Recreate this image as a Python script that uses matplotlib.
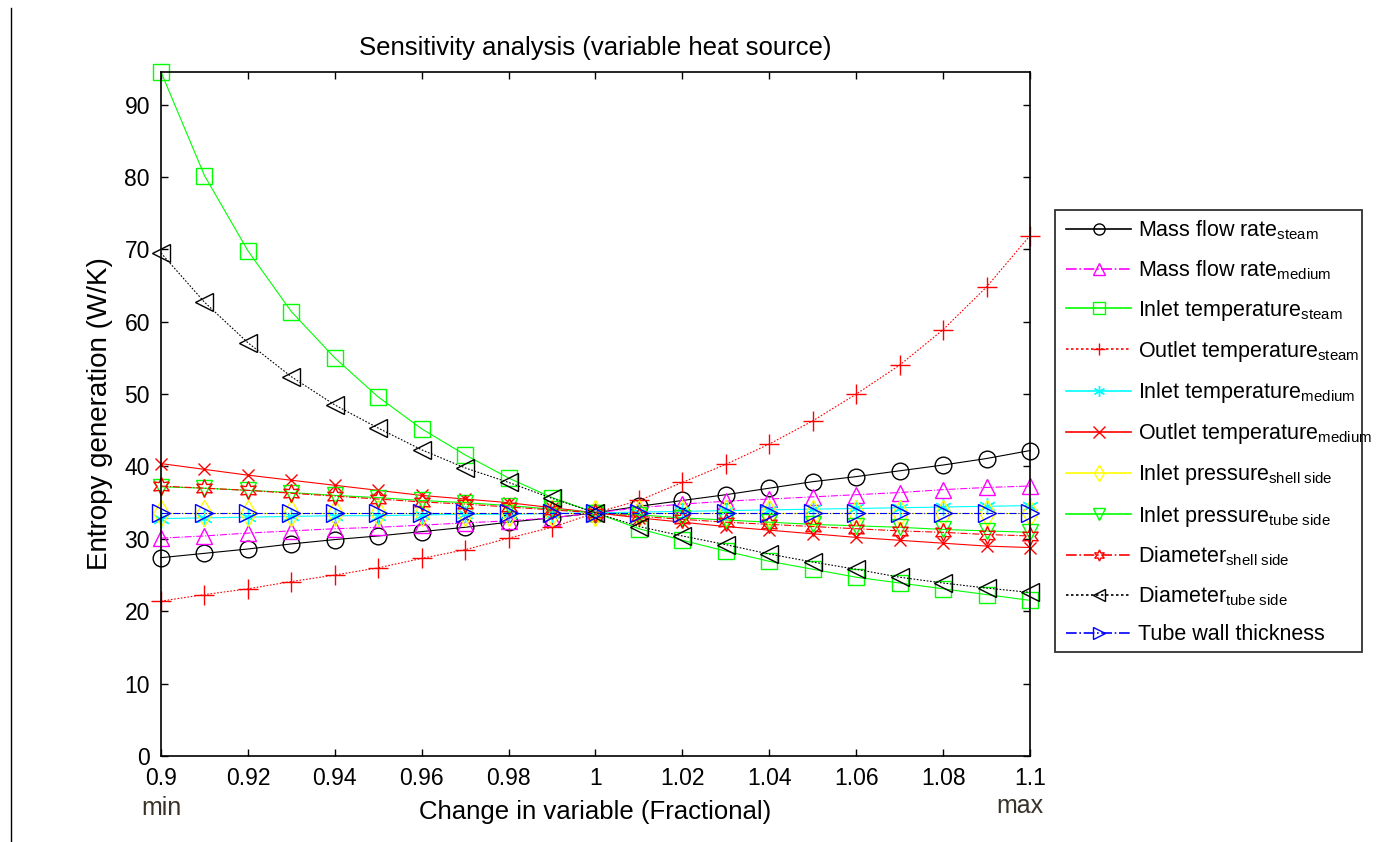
import matplotlib
matplotlib.use("Agg")
import matplotlib.pyplot as plt
from matplotlib.lines import Line2D
from matplotlib.patches import Rectangle

plt.rcParams['font.family'] = ['Liberation Sans', 'DejaVu Sans']
plt.rcParams['mathtext.fontset'] = 'custom'
plt.rcParams['mathtext.rm'] = 'Liberation Sans'
plt.rcParams['mathtext.it'] = 'Liberation Sans:italic'
plt.rcParams['mathtext.bf'] = 'Liberation Sans:bold'

# ---------------- data ----------------
x = [0.90, 0.91, 0.92, 0.93, 0.94, 0.95, 0.96, 0.97, 0.98, 0.99, 1.00,
     1.01, 1.02, 1.03, 1.04, 1.05, 1.06, 1.07, 1.08, 1.09, 1.10]

mass_steam = [27.4, 28.0, 28.6, 29.3, 29.9, 30.4, 31.0, 31.6, 32.3, 32.9, 33.6,
              34.5, 35.3, 36.1, 37.0, 37.9, 38.6, 39.4, 40.2, 41.1, 42.2]
mass_medium = [30.1, 30.4, 30.8, 31.1, 31.4, 31.6, 31.9, 32.2, 32.5, 32.9, 33.6,
               34.3, 34.8, 35.2, 35.5, 35.8, 36.1, 36.4, 36.8, 37.1, 37.3]
inlet_T_steam = [94.5, 80.2, 69.8, 61.4, 55.0, 49.6, 45.2, 41.6, 38.4, 35.7, 33.6,
                 31.4, 29.8, 28.3, 26.9, 25.8, 24.7, 23.9, 23.1, 22.3, 21.5]
outlet_T_steam = [21.4, 22.3, 23.1, 24.1, 25.0, 26.0, 27.3, 28.5, 30.1, 31.6, 33.6,
                  35.3, 37.8, 40.3, 43.1, 46.3, 50.0, 54.0, 58.9, 64.8, 71.9]
inlet_T_medium = [32.8, 32.9, 33.0, 33.1, 33.2, 33.2, 33.3, 33.4, 33.4, 33.5, 33.6,
                  33.7, 33.8, 33.9, 34.0, 34.1, 34.2, 34.3, 34.4, 34.5, 34.6]
outlet_T_medium = [40.4, 39.6, 38.8, 38.1, 37.4, 36.7, 36.0, 35.5, 35.0, 34.3, 33.6,
                   32.9, 32.3, 31.7, 31.2, 30.7, 30.2, 29.8, 29.4, 29.0, 28.8]
inlet_p_shell = [33.6, 33.6, 33.6, 33.6, 33.6, 33.6, 33.6, 33.6, 33.6, 33.6, 33.6,
                 33.6, 33.6, 33.6, 33.6, 33.6, 33.6, 33.6, 33.6, 33.6, 33.6]
inlet_p_tube = [37.2, 37.0, 36.7, 36.4, 36.0, 35.7, 35.3, 35.0, 34.6, 34.1, 33.6,
                33.3, 32.9, 32.6, 32.3, 32.0, 31.8, 31.6, 31.3, 31.1, 30.9]
diam_shell = [37.3, 37.0, 36.7, 36.3, 35.9, 35.5, 35.1, 34.8, 34.4, 34.0, 33.6,
              33.1, 32.7, 32.3, 32.0, 31.7, 31.4, 31.1, 30.9, 30.6, 30.4]
diam_tube = [69.5, 62.7, 57.1, 52.4, 48.5, 45.3, 42.3, 39.8, 37.8, 35.6, 33.6,
             31.7, 30.4, 29.2, 27.9, 26.8, 25.8, 24.7, 23.9, 23.2, 22.6]
wall_thickness = [33.6, 33.6, 33.6, 33.6, 33.6, 33.6, 33.6, 33.6, 33.6, 33.6, 33.6,
                  33.6, 33.6, 33.6, 33.6, 33.6, 33.6, 33.6, 33.6, 33.6, 33.6]

labels = [
    r"Mass flow rate$_{\mathrm{steam}}$",
    r"Mass flow rate$_{\mathrm{medium}}$",
    r"Inlet temperature$_{\mathrm{steam}}$",
    r"Outlet temperature$_{\mathrm{steam}}$",
    r"Inlet temperature$_{\mathrm{medium}}$",
    r"Outlet temperature$_{\mathrm{medium}}$",
    r"Inlet pressure$_{\mathrm{shell\ side}}$",
    r"Inlet pressure$_{\mathrm{tube\ side}}$",
    r"Diameter$_{\mathrm{shell\ side}}$",
    r"Diameter$_{\mathrm{tube\ side}}$",
    "Tube wall thickness",
]
series = [mass_steam, mass_medium, inlet_T_steam, outlet_T_steam, inlet_T_medium,
          outlet_T_medium, inlet_p_shell, inlet_p_tube, diam_shell, diam_tube,
          wall_thickness]

x_ticks = [0.9, 0.92, 0.94, 0.96, 0.98, 1.0, 1.02, 1.04, 1.06, 1.08, 1.1]
x_ticklabels = ["0.9", "0.92", "0.94", "0.96", "0.98", "1", "1.02", "1.04", "1.06", "1.08", "1.1"]
y_ticks = [0, 10, 20, 30, 40, 50, 60, 70, 80, 90]

# ---------------- styles ----------------
styles = [
    dict(color='#000000', ls='-', marker='o', ms=12),
    dict(color='#ff00ff', ls='-.', marker='^', ms=12),
    dict(color='#00ff00', ls='-', marker='s', ms=12),
    dict(color='#ff0000', ls=(0, (1.5, 1.5)), marker='+', ms=14),
    dict(color='#00ffff', ls='-', marker=(6, 2, 0), ms=12),
    dict(color='#ff0000', ls='-', marker='x', ms=9),
    dict(color='#ffff00', ls='-', marker='d', ms=13),
    dict(color='#00ff00', ls='-', marker='v', ms=12),
    dict(color='#ff0000', ls='-.', marker=(6, 1, 0), ms=13),
    dict(color='#000000', ls=(0, (1.5, 1.5)), marker='<', ms=13),
    dict(color='#0000ff', ls='-.', marker='>', ms=13),
]

fig = plt.figure(figsize=(13.94, 8.42), dpi=100)
ax = fig.add_axes([161 / 1394, 1 - 756 / 842, (1030 - 161) / 1394, (756 - 72) / 842])

handles = []
for yv, lab, st in zip(series, labels, styles):
    ln, = ax.plot(x, yv, color=st['color'], linestyle=st['ls'], linewidth=0.8,
                  marker=st['marker'], markersize=st['ms'], markerfacecolor='none',
                  markeredgecolor=st['color'], markeredgewidth=1.0, label=lab,
                  clip_on=False)
    handles.append(ln)

ax.set_xlim(0.9, 1.1)
ax.set_ylim(0, 94.5)
ax.set_xticks(x_ticks)
ax.set_xticklabels(x_ticklabels)
ax.set_yticks(y_ticks)
ax.tick_params(direction='in', length=5, width=1, top=True, right=True,
               labelsize=16.5, pad=8)
for sp in ax.spines.values():
    sp.set_linewidth(1.2)

ax.set_title("Sensitivity analysis (variable heat source)", fontsize=18.5, pad=12)
ax.set_xlabel("Change in variable (Fractional)", fontsize=18.5, labelpad=7)
ax.set_ylabel("Entropy generation (W/K)", fontsize=20, labelpad=8)

fig.text(161 / 1394, 1 - 808 / 842, "min", fontsize=18, color='#3a3228',
         ha='center', va='center')
fig.text(1020 / 1394, 1 - 806 / 842, "max", fontsize=18, color='#3a3228',
         ha='center', va='center')

# left border line of the original figure
fig.add_artist(Line2D([11 / 1394, 11 / 1394], [0, 1 - 8 / 842],
                      transform=fig.transFigure, color='black', linewidth=1))

# legend box
fig.add_artist(Rectangle((1055 / 1394, 1 - 652 / 842), (1362 - 1055) / 1394,
                         (652 - 210) / 842, transform=fig.transFigure,
                         facecolor='white', edgecolor='#303030', linewidth=1.3,
                         zorder=4))

leg = fig.legend(handles, labels, loc='upper left',
                 bbox_to_anchor=(1062 / 1394, 1 - 214 / 842),
                 bbox_transform=fig.transFigure, borderaxespad=0, fontsize=15.5,
                 handlelength=3.0, handletextpad=0.35, labelspacing=0.75,
                 frameon=False, borderpad=0.2)
leg.set_zorder(5)
for h in leg.legend_handles:
    h.set_markersize(8)
    h.set_linewidth(1.2)

fig.savefig("out.png", dpi=100)
